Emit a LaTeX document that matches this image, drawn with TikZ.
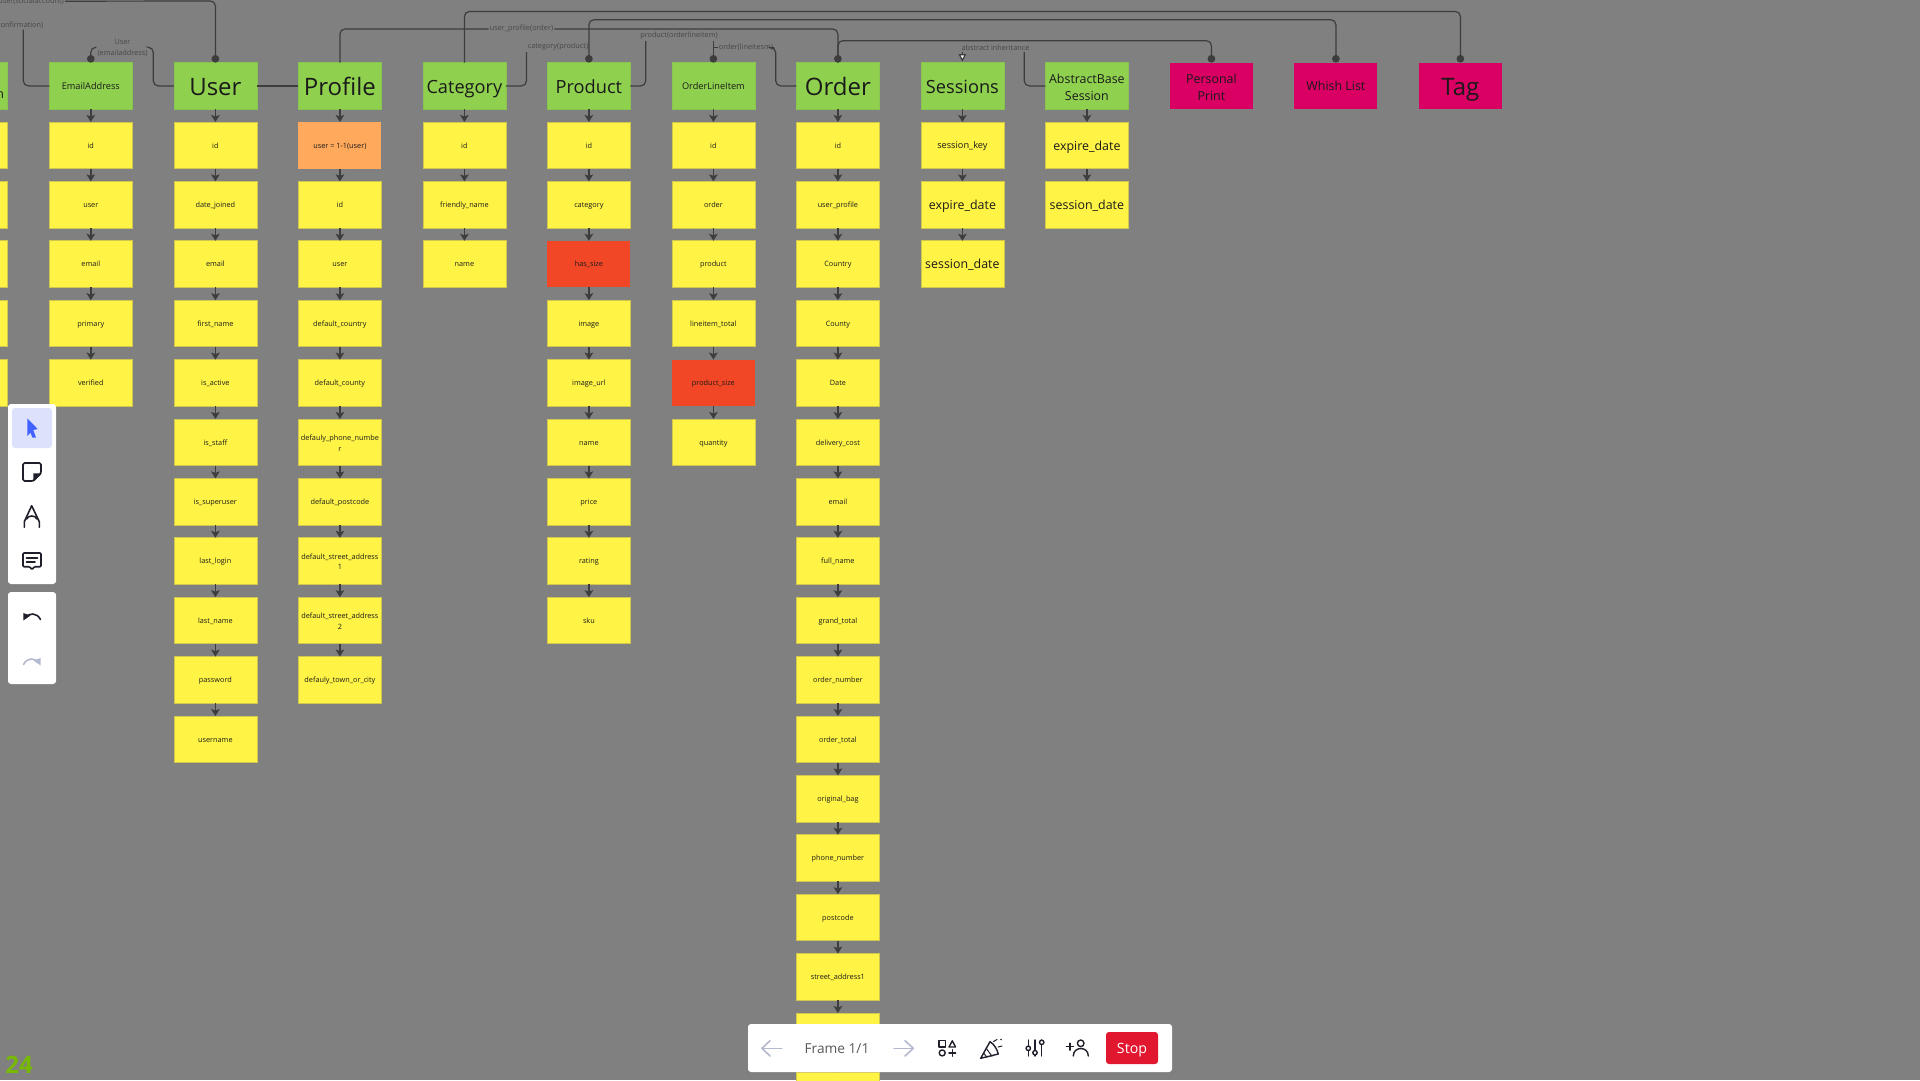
\documentclass[tikz,border=0pt]{standalone}
\usepackage{fontspec}
\setmainfont{Open Sans}
\usetikzlibrary{arrows.meta,shapes}
\definecolor{Canvas}{HTML}{808080}
\definecolor{LineDark}{HTML}{3D3D3D}
\definecolor{LabelGray}{HTML}{474747}
\definecolor{NoteYellow}{HTML}{FFF445}
\definecolor{NoteEdge}{HTML}{CFC64F}
\definecolor{NoteGreen}{HTML}{8FD14F}
\definecolor{GreenEdge}{HTML}{88C450}
\definecolor{NoteOrange}{HTML}{FFA95C}
\definecolor{NoteRed}{HTML}{F24726}
\definecolor{NotePink}{HTML}{DA0063}
\definecolor{InkDark}{HTML}{1A1A1A}
\definecolor{IconDark}{HTML}{1F1F2B}
\definecolor{IconPale}{HTML}{B4B9CF}
\definecolor{PickBlue}{HTML}{4262FF}
\definecolor{PickPale}{HTML}{DDE1FB}
\definecolor{StopRed}{HTML}{E1162F}
\definecolor{FpsGreen}{HTML}{76B900}
\newcommand{\Lineheight}{\rule[-.27em]{0pt}{1.32em}}
\newcommand{\Firstline}{\rule{0pt}{1.25em}}

\begin{document}
\begin{tikzpicture}[x=1pt,y=-1pt]
			\tikzstyle{Box}		= [rectangle, minimum width=83pt, minimum height=46.6pt, inner sep=0pt, outer sep=0pt, align=center, text=InkDark, execute at begin node=\Lineheight]
			\tikzstyle{Note}	= [Box, fill=NoteYellow, draw=NoteEdge, line width=.7pt]
			\tikzstyle{Head}	= [Box, fill=NoteGreen, draw=GreenEdge, line width=.7pt]
			\tikzstyle{Warm}	= [Box, fill=NoteOrange]
			\tikzstyle{Hot}		= [Box, fill=NoteRed]
			\tikzstyle{Extra}	= [Box, fill=NotePink]
			\tikzstyle{FTiny}	= [font=\fontsize{7.3}{10.3}\selectfont]
			\tikzstyle{FSmall}	= [font=\fontsize{9.2}{12.9}\selectfont]
			\tikzstyle{FMid}	= [font=\fontsize{12.4}{17}\selectfont]
			\tikzstyle{FLarge}	= [font=\fontsize{18.2}{25}\selectfont]
			\tikzstyle{FHuge}	= [font=\fontsize{24}{33}\selectfont]
			\tikzstyle{Flow}	= [-{Stealth[length=7pt,width=8.5pt,inset=1.5pt]}, line width=1.5pt, LineDark]
			\tikzstyle{Link}	= [line width=1.2pt, LineDark, rounded corners=5pt]
			\tikzstyle{Dot}		= [-{Circle[length=7.6pt]}]
			\tikzstyle{TwoDot}	= [{Circle[length=7.6pt]}-{Circle[length=7.6pt]}]
			\tikzstyle{Open}	= [-{Triangle[length=7.5pt,width=7.5pt,fill=white]}, shorten >=1pt]
			\tikzstyle{Caption}	= [font=\fontsize{7.3}{10.3}\selectfont, text=LabelGray, inner sep=1pt, align=center]
			\tikzstyle{Panel}	= [rectangle, fill=white, rounded corners=3pt, inner sep=0pt, outer sep=0pt]
			\tikzstyle{Icon}	= [line width=1.4pt, IconDark, line cap=round, line join=round]
			\tikzstyle{Pale}	= [line width=1.6pt, IconPale, line cap=round, line join=round]
			\tikzstyle{BarText}	= [font=\fontsize{13.7}{17}\selectfont, text=black!65, inner sep=0pt]

			\path [use as bounding box] (0,0) rectangle (1920,1080);
			\clip (0,0) rectangle (1920,1080);
			\fill [Canvas] (0,0) rectangle (1920,1080);

			\node (left) at (-33.7,85.9) [Head] {};
			\node (left0) at (-33.7,145.3) [Note] {};
			\node (left1) at (-33.7,204.7) [Note] {};
			\node (left2) at (-33.7,264.1) [Note] {};
			\node (left3) at (-33.7,323.5) [Note] {};
			\node (left4) at (-33.7,382.9) [Note] {};
			\node (leftEnd) at (0.2,95) [FMid, text=InkDark, inner sep=0pt] {n};

			\node (email) at (90.8,85.9) [Head][FSmall] {EmailAddress};
			\node (email0) at (90.8,145.3) [Note][FTiny] {id};
			\node (email1) at (90.8,204.7) [Note][FTiny] {user};
			\node (email2) at (90.8,264.1) [Note][FTiny] {email};
			\node (email3) at (90.8,323.5) [Note][FTiny] {primary};
			\node (email4) at (90.8,382.9) [Note][FTiny] {verified};

			\node (user) at (215.4,85.9) [Head][FHuge] {User};
			\node (user0) at (215.4,145.3) [Note][FTiny] {id};
			\node (user1) at (215.4,204.7) [Note][FTiny] {date\_joined};
			\node (user2) at (215.4,264.1) [Note][FTiny] {email};
			\node (user3) at (215.4,323.5) [Note][FTiny] {first\_name};
			\node (user4) at (215.4,382.9) [Note][FTiny] {is\_active};
			\node (user5) at (215.4,442.3) [Note][FTiny] {is\_staff};
			\node (user6) at (215.4,501.7) [Note][FTiny] {is\_superuser};
			\node (user7) at (215.4,561.1) [Note][FTiny] {last\_login};
			\node (user8) at (215.4,620.5) [Note][FTiny] {last\_name};
			\node (user9) at (215.4,679.9) [Note][FTiny] {password};
			\node (user10) at (215.4,739.3) [Note][FTiny] {username};

			\node (profile) at (339.9,85.9) [Head][FHuge] {Profile};
			\node (profile0) at (339.9,145.3) [Warm][FTiny] {user = 1-1(user)};
			\node (profile1) at (339.9,204.7) [Note][FTiny] {id};
			\node (profile2) at (339.9,264.1) [Note][FTiny] {user};
			\node (profile3) at (339.9,323.5) [Note][FTiny] {default\_country};
			\node (profile4) at (339.9,382.9) [Note][FTiny] {default\_county};
			\node (profile5) at (339.9,442.3) [Note][FTiny] {\Firstline defauly\_phone\_numbe\\\Lineheight r};
			\node (profile6) at (339.9,501.7) [Note][FTiny] {default\_postcode};
			\node (profile7) at (339.9,561.1) [Note][FTiny] {\Firstline default\_street\_address\\\Lineheight 1};
			\node (profile8) at (339.9,620.5) [Note][FTiny] {\Firstline default\_street\_address\\\Lineheight 2};
			\node (profile9) at (339.9,679.9) [Note][FTiny] {defauly\_town\_or\_city};

			\node (category) at (464.4,85.9) [Head][FLarge] {Category};
			\node (category0) at (464.4,145.3) [Note][FTiny] {id};
			\node (category1) at (464.4,204.7) [Note][FTiny] {friendly\_name};
			\node (category2) at (464.4,264.1) [Note][FTiny] {name};

			\node (product) at (588.9,85.9) [Head][FLarge] {Product};
			\node (product0) at (588.9,145.3) [Note][FTiny] {id};
			\node (product1) at (588.9,204.7) [Note][FTiny] {category};
			\node (product2) at (588.9,264.1) [Hot][FTiny] {has\_size};
			\node (product3) at (588.9,323.5) [Note][FTiny] {image};
			\node (product4) at (588.9,382.9) [Note][FTiny] {image\_url};
			\node (product5) at (588.9,442.3) [Note][FTiny] {name};
			\node (product6) at (588.9,501.7) [Note][FTiny] {price};
			\node (product7) at (588.9,561.1) [Note][FTiny] {rating};
			\node (product8) at (588.9,620.5) [Note][FTiny] {sku};

			\node (item) at (713.4,85.9) [Head][FSmall] {OrderLineItem};
			\node (item0) at (713.4,145.3) [Note][FTiny] {id};
			\node (item1) at (713.4,204.7) [Note][FTiny] {order};
			\node (item2) at (713.4,264.1) [Note][FTiny] {product};
			\node (item3) at (713.4,323.5) [Note][FTiny] {lineitem\_total};
			\node (item4) at (713.4,382.9) [Hot][FTiny] {product\_size};
			\node (item5) at (713.4,442.3) [Note][FTiny] {quantity};

			\node (order) at (837.9,85.9) [Head][FHuge] {Order};
			\node (order0) at (837.9,145.3) [Note][FTiny] {id};
			\node (order1) at (837.9,204.7) [Note][FTiny] {user\_profile};
			\node (order2) at (837.9,264.1) [Note][FTiny] {Country};
			\node (order3) at (837.9,323.5) [Note][FTiny] {County};
			\node (order4) at (837.9,382.9) [Note][FTiny] {Date};
			\node (order5) at (837.9,442.3) [Note][FTiny] {delivery\_cost};
			\node (order6) at (837.9,501.7) [Note][FTiny] {email};
			\node (order7) at (837.9,561.1) [Note][FTiny] {full\_name};
			\node (order8) at (837.9,620.5) [Note][FTiny] {grand\_total};
			\node (order9) at (837.9,679.9) [Note][FTiny] {order\_number};
			\node (order10) at (837.9,739.3) [Note][FTiny] {order\_total};
			\node (order11) at (837.9,798.7) [Note][FTiny] {original\_bag};
			\node (order12) at (837.9,858.1) [Note][FTiny] {phone\_number};
			\node (order13) at (837.9,917.5) [Note][FTiny] {postcode};
			\node (order14) at (837.9,976.9) [Note][FTiny] {street\_address1};
			\node (order15) at (837.9,1036.3) [Note] {};
			\node (order16) at (837.9,1095.7) [Note] {};

			\node (sessions) at (962.4,85.9) [Head][FLarge] {Sessions};
			\node (sessions0) at (962.4,145.3) [Note][FSmall] {session\_key};
			\node (sessions1) at (962.4,204.7) [Note][FMid] {expire\_date};
			\node (sessions2) at (962.4,264.1) [Note][FMid] {session\_date};

			\node (abstract) at (1086.9,85.9) [Head][FMid] {\Firstline AbstractBase\\\Lineheight Session};
			\node (abstract0) at (1086.9,145.3) [Note][FMid] {expire\_date};
			\node (abstract1) at (1086.9,204.7) [Note][FMid] {session\_date};

			\node (print) at (1211.4,85.9) [Extra][FMid] {\Firstline Personal\\\Lineheight Print};
			\node (whish) at (1335.9,85.9) [Extra][FMid] {Whish List};
			\node (tag) at (1460.4,85.9) [Extra][FHuge] {Tag};

			\node (lSocial) at (65,1.2) [Caption, anchor=east] {user(socialaccount)};
			\node (lConfirm) at (44.5,25) [Caption, anchor=east] {confirmation)};
			\node (lEmail) at (122.5,48) [Caption] {User\\(emailaddress)};
			\node (lOrder) at (521.5,29) [Caption] {user\_profile(order)};
			\node (lProduct) at (558,47) [Caption] {category(product)};
			\node (lItem) at (679,36) [Caption] {product(orderlineitem)};
			\node (lLine) at (746,47.7) [Caption] {order(lineitesm)};
			\node (lInherit) at (995.5,47.3) [Caption] {abstract inheritance};

			\coordinate (kSocial) at (215.4,1);
			\coordinate (kConfirm1) at (23.3,85.9);
			\coordinate (kConfirm2) at (23.3,29.5);
			\coordinate (kEmail1) at (153.3,85.9);
			\coordinate (kEmail2) at (153.3,47.3);
			\coordinate (kEmail3) at (90.8,47.3);
			\coordinate (kOrder1) at (339.9,29);
			\coordinate (kOrder2) at (837.9,29);
			\coordinate (kTag1) at (464.4,11.5);
			\coordinate (kTag2) at (1460.4,11.5);
			\coordinate (kWhish1) at (588.9,19.7);
			\coordinate (kWhish2) at (1335.9,19.7);
			\coordinate (kPrint1) at (837.9,40.7);
			\coordinate (kPrint2) at (1211.4,40.7);
			\coordinate (kProduct1) at (526.5,85.9);
			\coordinate (kProduct2) at (526.5,52);
			\coordinate (kItem1) at (645.7,85.9);
			\coordinate (kItem2) at (645.7,41);
			\coordinate (kItem3) at (713.4,41);
			\coordinate (kLine0) at (713.4,47.7);
			\coordinate (kLine1) at (775.7,47.7);
			\coordinate (kLine2) at (775.7,85.9);
			\coordinate (kInherit0) at (962.4,52);
			\coordinate (kInherit1) at (1024.3,52);
			\coordinate (kInherit2) at (1024.3,85.9);

			\draw [Link, Dot] (lSocial.east) -- (kSocial) -- (user);
			\draw [Link] (email) -- (kConfirm1) -- (kConfirm2);
			\draw [Link] (user) -- (kEmail1) -- (kEmail2) -- (lEmail.east |- kEmail2);
			\draw [Link, Dot] (lEmail.west |- kEmail3) -- (kEmail3) -- (email);
			\draw [Link] (user) to (profile);
			\draw [Link] (profile) -- (kOrder1) -- (lOrder.west);
			\draw [Link, Dot] (lOrder.east) -- (kOrder2) -- (order);
			\draw [Link, Dot] (category) -- (kTag1) -- (kTag2) -- (tag);
			\draw [Link, TwoDot] (product) -- (kWhish1) -- (kWhish2) -- (whish);
			\draw [Link, Dot] (order) -- (kPrint1) -- (kPrint2) -- (print);
			\draw [Link] (category) -- (kProduct1) -- (kProduct2);
			\draw [Link] (product) -- (kItem1) -- (kItem2);
			\draw [Link, Dot] (kItem3) -- (item);
			\draw [Link] (lLine.west) -- (kLine0);
			\draw [Link] (lLine.east) -- (kLine1) -- (kLine2) -- (order);
			\draw [Link, Open] (kInherit0) -- (sessions);
			\draw [Link] (kInherit1) -- (kInherit2) -- (abstract);

			\draw (email) to (email0) [Flow];
			\draw (email0) to (email1) [Flow];
			\draw (email1) to (email2) [Flow];
			\draw (email2) to (email3) [Flow];
			\draw (email3) to (email4) [Flow];

			\draw (user) to (user0) [Flow];
			\draw (user0) to (user1) [Flow];
			\draw (user1) to (user2) [Flow];
			\draw (user2) to (user3) [Flow];
			\draw (user3) to (user4) [Flow];
			\draw (user4) to (user5) [Flow];
			\draw (user5) to (user6) [Flow];
			\draw (user6) to (user7) [Flow];
			\draw (user7) to (user8) [Flow];
			\draw (user8) to (user9) [Flow];
			\draw (user9) to (user10) [Flow];

			\draw (profile) to (profile0) [Flow];
			\draw (profile0) to (profile1) [Flow];
			\draw (profile1) to (profile2) [Flow];
			\draw (profile2) to (profile3) [Flow];
			\draw (profile3) to (profile4) [Flow];
			\draw (profile4) to (profile5) [Flow];
			\draw (profile5) to (profile6) [Flow];
			\draw (profile6) to (profile7) [Flow];
			\draw (profile7) to (profile8) [Flow];
			\draw (profile8) to (profile9) [Flow];

			\draw (category) to (category0) [Flow];
			\draw (category0) to (category1) [Flow];
			\draw (category1) to (category2) [Flow];

			\draw (product) to (product0) [Flow];
			\draw (product0) to (product1) [Flow];
			\draw (product1) to (product2) [Flow];
			\draw (product2) to (product3) [Flow];
			\draw (product3) to (product4) [Flow];
			\draw (product4) to (product5) [Flow];
			\draw (product5) to (product6) [Flow];
			\draw (product6) to (product7) [Flow];
			\draw (product7) to (product8) [Flow];

			\draw (item) to (item0) [Flow];
			\draw (item0) to (item1) [Flow];
			\draw (item1) to (item2) [Flow];
			\draw (item2) to (item3) [Flow];
			\draw (item3) to (item4) [Flow];
			\draw (item4) to (item5) [Flow];

			\draw (order) to (order0) [Flow];
			\draw (order0) to (order1) [Flow];
			\draw (order1) to (order2) [Flow];
			\draw (order2) to (order3) [Flow];
			\draw (order3) to (order4) [Flow];
			\draw (order4) to (order5) [Flow];
			\draw (order5) to (order6) [Flow];
			\draw (order6) to (order7) [Flow];
			\draw (order7) to (order8) [Flow];
			\draw (order8) to (order9) [Flow];
			\draw (order9) to (order10) [Flow];
			\draw (order10) to (order11) [Flow];
			\draw (order11) to (order12) [Flow];
			\draw (order12) to (order13) [Flow];
			\draw (order13) to (order14) [Flow];
			\draw (order14) to (order15) [Flow];
			\draw (order15) to (order16) [Flow];

			\draw (sessions) to (sessions0) [Flow];
			\draw (sessions0) to (sessions1) [Flow];
			\draw (sessions1) to (sessions2) [Flow];

			\draw (abstract) to (abstract0) [Flow];
			\draw (abstract0) to (abstract1) [Flow];

			\node (toolsMain) at (32,494) [Panel, minimum width=48pt, minimum height=180pt] {};
			\node (toolsUndo) at (32,638) [Panel, minimum width=48pt, minimum height=92pt] {};
			\node (toolsPick) at (32,428) [Panel, fill=PickPale, minimum width=40pt, minimum height=40pt] {};
			\node (bar) at (960,1048) [Panel, minimum width=424pt, minimum height=48pt] {};
			\node (stop) at (1132,1048) [Panel, fill=StopRed, minimum width=52pt, minimum height=32pt, text=white, font=\fontsize{14.2}{17}\selectfont, execute at begin node=\Lineheight] {Stop};
			\node (frame) at (837,1049) [BarText] {Frame 1/1};
			\node (fps) at (19,1064.5) [font=\fontsize{24}{28}\selectfont\bfseries, text=FpsGreen, inner sep=0pt] {24};

			\fill [PickBlue] (27.3,418.3) -- (37.7,429) -- (33.3,430) -- (36,437.7) -- (32.5,437.7) -- (30.5,432.7) -- (27.3,436) -- cycle;
			\draw [Icon, line width=1.6pt, rounded corners=1.5pt] (41,473.3) -- (41,463) -- (23,463) -- (23,481) -- (33.3,481) -- cycle;
			\fill [IconDark] (41.7,473.3) -- (33.3,473.3) -- (33.3,481.7) -- cycle;
			\draw [Icon, line width=1.6pt] (24.3,527.3) -- (24.3,521.7) -- (31.7,505.7) -- (39.3,521.7) -- (39.3,527.3);
			\draw [Icon, line width=1.6pt] (26.5,519) .. controls (28,515) and (35.5,515) .. (37,519);
			\draw [Icon, line width=1.6pt, rounded corners=1pt] (23,553) -- (41,553) -- (41,566.7) -- (34.5,566.7) -- (32,569.5) -- (29.5,566.7) -- (23,566.7) -- cycle;
			\draw [Icon, line width=1.6pt] (26.5,557.7) -- (37.5,557.7);
			\draw [Icon, line width=1.6pt] (26.5,562) -- (35,562);
			\draw [Icon, line width=1.6pt] (40.5,619.5) .. controls (37,612.5) and (29,612.5) .. (26,617.5);
			\fill [IconDark] (23.3,620.5) -- (23.3,613) -- (30.5,615.5) -- cycle;
			\draw [Pale] (23.5,664.5) .. controls (27,657.5) and (35,657.5) .. (38,662.5);
			\fill [IconPale] (40.7,665.5) -- (40.7,658) -- (33.5,660.5) -- cycle;

			\draw [Pale] (762,1048.3) -- (781.7,1048.3);
			\draw [Pale] (770,1040.7) -- (762,1048.3) -- (770,1056);
			\draw [Pale] (894,1048.3) -- (913.3,1048.3);
			\draw [Pale] (905,1040.7) -- (913.3,1048.3) -- (905,1056);
			\draw [Icon] (939,1040.7) rectangle (945.3,1047);
			\draw [Icon] (952.3,1040.8) -- (949,1047) -- (955.6,1047) -- cycle;
			\draw [Icon] (942.2,1052.9) circle (3);
			\draw [Icon] (952.3,1049.6) -- (952.3,1056.2);
			\draw [Icon] (949,1052.9) -- (955.6,1052.9);
			\draw [Icon] (980.7,1058.3) -- (990,1041.7) .. controls (994,1044) and (997,1049) .. (998.3,1054) -- cycle;
			\draw [Icon, line width=1pt] (986,1048) -- (992,1056.2);
			\draw [Icon, line width=1pt] (983.5,1053) -- (987,1057.3);
			\draw [Icon, line width=1pt] (993.5,1041.5) .. controls (995,1040) and (996,1041) .. (997,1039.5);
			\draw [Icon, line width=1pt] (998,1047) -- (1002,1046);
			\fill [IconDark] (1001,1039.5) circle (.8);
			\draw [Icon] (1028.3,1040) -- (1028.3,1056);
			\draw [Icon] (1035,1040) -- (1035,1056);
			\draw [Icon] (1041.7,1040) -- (1041.7,1056);
			\filldraw [Icon, fill=white] (1028.3,1048.3) circle (2.2);
			\filldraw [Icon, fill=white] (1035,1052.7) circle (2.2);
			\filldraw [Icon, fill=white] (1041.7,1042.3) circle (2.2);
			\draw [Icon] (1070,1043.2) -- (1070,1050.2);
			\draw [Icon] (1066.5,1046.7) -- (1073.5,1046.7);
			\draw [Icon] (1080.7,1043.3) circle (3.3);
			\draw [Icon] (1073.3,1056) .. controls (1073.3,1046) and (1088.3,1046) .. (1088.3,1056);
		\end{tikzpicture}
\end{document}
